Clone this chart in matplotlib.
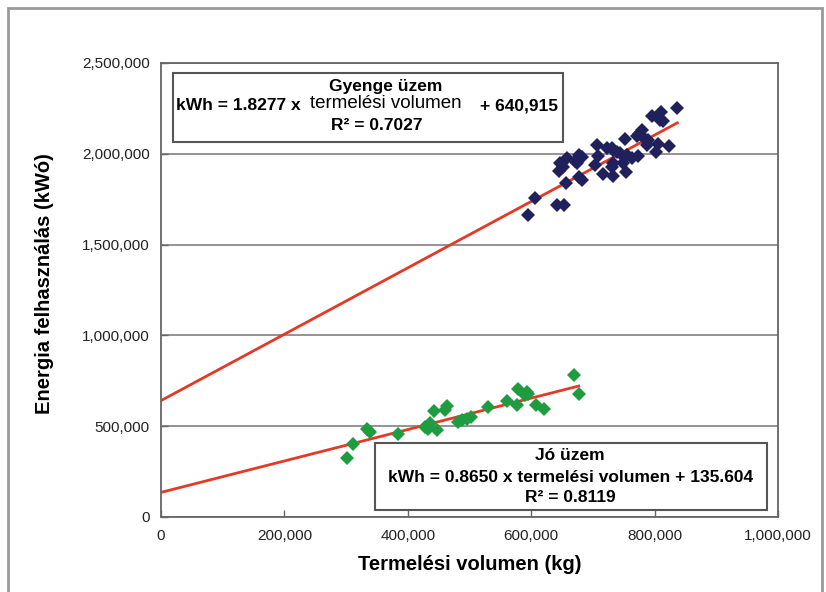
import matplotlib
matplotlib.use("Agg")
import matplotlib.pyplot as plt
from matplotlib.patches import Rectangle
from matplotlib.ticker import FuncFormatter

plt.rcParams['font.family'] = ['Liberation Sans', 'DejaVu Sans']

# Gyenge üzem (weak plant) - volume kg, energy kWh
weak_x = [836800, 795300, 809900, 808700, 813100, 779100, 775200, 771900, 781700, 752000,
          789800, 787200, 806000, 822800, 802200, 706100, 722300, 730400, 733000, 738500,
          743900, 708700, 754800, 762900, 773500, 703400, 733000, 730400, 749200, 716800,
          732100, 753600, 681800, 646700, 651000, 645500, 658500, 671000, 674700, 681800,
          677900, 656400, 677900, 606100, 641300, 653100, 595300]
weak_y = [2251500, 2210700, 2229500, 2187000, 2181500, 2131900, 2108200, 2100500, 2094900, 2082300,
          2076700, 2049200, 2053000, 2043700, 2012200, 2049200, 2034300, 2031000, 2021600, 2012200,
          2003400, 1990200, 1994100, 1979200, 1988500, 1938900, 1948300, 1929600, 1948300, 1887700,
          1880000, 1902000, 1856200, 1948300, 1929600, 1907500, 1975900, 1962600, 1948300, 1981400,
          1994100, 1841300, 1871100, 1755300, 1718400, 1718400, 1663300]

# Jó üzem (good plant)
good_x = [301000, 310700, 333400, 338700, 384600, 427900, 433200, 436000, 447800, 442900,
          460300, 464000, 481800, 487300, 495400, 501900, 530500, 560300, 576500, 579100,
          592700, 594800, 589900, 607800, 620700, 669300, 677000]
good_y = [327500, 404700, 487300, 468600, 455900, 496200, 487300, 514900, 481800, 582700,
          588200, 610300, 523700, 533100, 537000, 548000, 604800, 639500, 615800, 702400,
          689100, 676400, 670900, 615800, 592100, 781200, 674800]

# trendline coefficients as printed on the chart
weak_slope, weak_icpt = 1.8277, 640915
good_slope, good_icpt = 0.8650, 135604

x_ticks = [0, 200000, 400000, 600000, 800000, 1000000]
y_ticks = [0, 500000, 1000000, 1500000, 2000000, 2500000]

W, H = 826, 592
fig = plt.figure(figsize=(W / 100, H / 100), dpi=100)


def px(x, y):
    return x / W, 1 - y / H


# outer chart frame
fig.patches.append(Rectangle(px(8, 600), (822 - 8) / W, (600 - 8) / H, transform=fig.transFigure,
                             fill=False, edgecolor='#9a9a9a', linewidth=2))

ax = fig.add_axes([161 / W, 1 - 517 / H, (778 - 161) / W, (517 - 63) / H])
ax.set_xlim(0, 1000000)
ax.set_ylim(0, 2500000)
ax.set_xticks(x_ticks)
ax.set_yticks(y_ticks)
fmt = FuncFormatter(lambda v, p: f"{int(v):,}")
ax.xaxis.set_major_formatter(fmt)
ax.yaxis.set_major_formatter(fmt)
ax.tick_params(direction='in', length=5, width=1, color='#666666', labelsize=11,
               labelcolor='#222222')
ax.tick_params(axis='x', pad=9)
ax.tick_params(axis='y', pad=8)
for s in ax.spines.values():
    s.set_color('#666666')
    s.set_linewidth(1.3)
ax.grid(axis='y', color='#8a8a8a', linewidth=1.3)
ax.set_axisbelow(True)

# trendlines from 0 to the last point of each series
wx = [0, max(weak_x)]
gx = [0, max(good_x)]
ax.plot(wx, [weak_slope * v + weak_icpt for v in wx], color='#e23a26', linewidth=2, zorder=3)
ax.plot(gx, [good_slope * v + good_icpt for v in gx], color='#e23a26', linewidth=2, zorder=3)

ax.plot(weak_x, weak_y, 'D', color='#20205c', markersize=7, markeredgewidth=0, zorder=4)
ax.plot(good_x, good_y, 'D', color='#1f9c3f', markersize=7, markeredgewidth=0, zorder=4)

fig.text(*px(469.5, 564), "Termelési volumen (kg)", ha='center', va='center',
         fontsize=14.5, fontweight='bold')
fig.text(*px(45, 284), "Energia felhasználás (kWó)", ha='center', va='center',
         fontsize=14.5, fontweight='bold', rotation=90)

# annotation boxes
box_kw = dict(transform=fig.transFigure, fill=True, facecolor='white',
              edgecolor='#555555', linewidth=1.5, zorder=5)
fig.patches.append(Rectangle(px(173, 142), (563 - 173) / W, (142 - 73) / H, **box_kw))
fig.patches.append(Rectangle(px(375, 510), (767 - 375) / W, (510 - 443) / H, **box_kw))

t_kw = dict(fontsize=12.5, fontweight='bold', va='center', zorder=6)
fig.text(*px(386, 86), "Gyenge üzem", ha='center', **t_kw)
fig.text(*px(176, 106), "kWh = 1.8277 x", ha='left', **t_kw)
fig.text(*px(386, 103), "termelési volumen", ha='center', va='center', fontsize=13.5, zorder=6)
fig.text(*px(558, 106), "+ 640,915", ha='right', **t_kw)
fig.text(*px(377, 125), "R² = 0.7027", ha='center', **t_kw)

fig.text(*px(570, 456), "Jó üzem", ha='center', **t_kw)
fig.text(*px(571, 477), "kWh = 0.8650 x termelési volumen + 135.604", ha='center', **t_kw)
fig.text(*px(570, 498), "R² = 0.8119", ha='center', **t_kw)

fig.savefig("out.png", dpi=100)
